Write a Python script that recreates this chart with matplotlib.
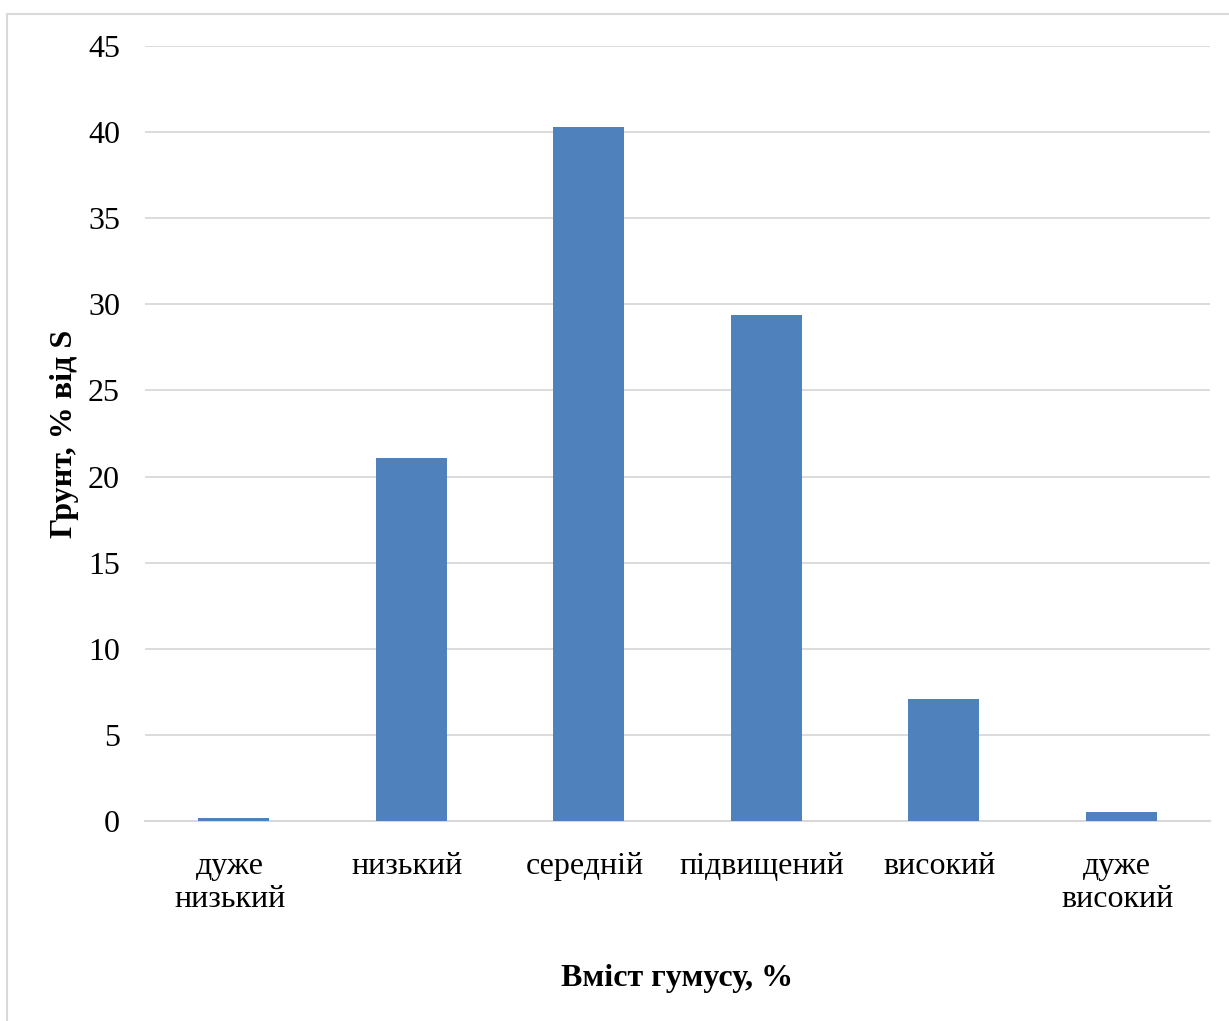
import matplotlib
matplotlib.use("Agg")
import matplotlib.pyplot as plt
from matplotlib.patches import Rectangle
from matplotlib.transforms import ScaledTranslation

categories = ["дуже\nнизький", "низький", "середній", "підвищений", "високий", "дуже\nвисокий"]
values = [0.2, 21.1, 40.3, 29.4, 7.1, 0.5]
yticks = [0, 5, 10, 15, 20, 25, 30, 35, 40, 45]

plt.rcParams["font.family"] = ["Liberation Serif", "DejaVu Serif"]

fig = plt.figure(figsize=(12.29, 10.21), dpi=100)
ax = fig.add_axes([145 / 1229, 1 - 821 / 1021, (1210 - 145) / 1229, (821 - 46) / 1021])

# outer chart frame (partly cut off at right and bottom)
fig.patches.append(Rectangle((7 / 1229, -0.05), 1.1, 1 - 14 / 1021 + 0.05,
                             transform=fig.transFigure, fill=False,
                             edgecolor="#d9d9d9", linewidth=1.5, zorder=0))

x = range(len(categories))
ax.bar(x, values, width=0.4, color="#4f81bd", zorder=3)

ax.set_xlim(-0.5, len(categories) - 0.5)
ax.set_ylim(0, 45)
ax.set_yticks(yticks)
ax.set_xticks(list(x))
ax.set_xticklabels(categories, fontsize=23, linespacing=1.2)
ax.tick_params(axis="y", labelsize=23, length=0, pad=18)
ax.tick_params(axis="x", length=0, pad=22)
shift = ScaledTranslation(-0.04, 0, fig.dpi_scale_trans)
for lbl in ax.get_xticklabels():
    lbl.set_transform(lbl.get_transform() + shift)
ax.grid(axis="y", color="#d9d9d9", linewidth=1.3, zorder=0)
for s in ["top", "right", "left"]:
    ax.spines[s].set_visible(False)
ax.spines["bottom"].set_color("#d9d9d9")
ax.spines["bottom"].set_linewidth(1.5)
ax.spines["bottom"].set_zorder(1)

ax.set_ylabel("Грунт, % від S", fontsize=23, fontweight="bold")
ax.yaxis.set_label_coords(-66 / 1065, 0.5)
fig.text(677 / 1229, 1 - 978 / 1021, "Вміст гумусу, %", fontsize=23,
         fontweight="bold", ha="center", va="center")

fig.savefig("out.png", dpi=100, facecolor="white")
